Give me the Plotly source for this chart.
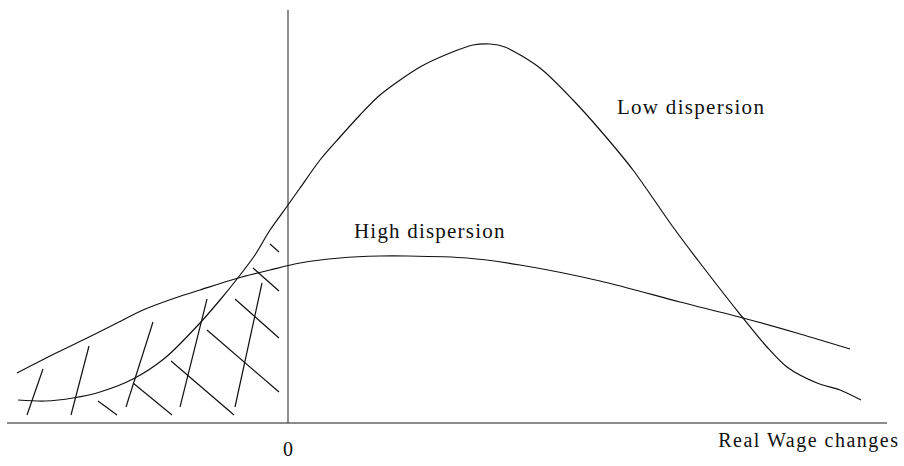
import plotly.graph_objects as go

# Low-dispersion distribution of real wage changes (x: wage change, y: density)
low_x = [-2.70, -2.43, -2.15, -1.88, -1.55, -1.23, -0.88, -0.68, -0.51, -0.33, -0.18, 0.00,
         0.12, 0.32, 0.52, 0.72, 0.92, 1.32, 1.62, 1.85, 2.02, 2.17, 2.52, 2.85, 3.12,
         3.45, 3.85, 4.12, 4.55, 4.79, 4.99, 5.29, 5.52, 5.73]
low_y = [0.23, 0.22, 0.25, 0.31, 0.44, 0.65, 1.00, 1.23, 1.44, 1.68, 1.93, 2.18,
         2.35, 2.63, 2.86, 3.08, 3.28, 3.56, 3.70, 3.78, 3.79, 3.76, 3.55, 3.23, 2.93,
         2.53, 1.96, 1.60, 1.05, 0.76, 0.56, 0.40, 0.33, 0.23]

# High-dispersion distribution
high_x = [-2.71, -2.38, -2.05, -1.73, -1.45, -1.13, -0.88, -0.53, -0.18, 0.12, 0.52, 0.92,
          1.19, 1.79, 2.32, 3.12, 3.92, 4.55, 5.12, 5.62]
high_y = [0.50, 0.67, 0.83, 0.99, 1.13, 1.25, 1.33, 1.44, 1.53, 1.60, 1.65, 1.67,
          1.67, 1.65, 1.58, 1.42, 1.21, 1.05, 0.89, 0.74]

# Hatching strokes in the negative-change region: (x0, y0, x1, y1)
hatch_fwd = [(-2.61, 0.08, -2.45, 0.54), (-2.17, 0.08, -1.99, 0.77), (-1.62, 0.16, -1.35, 1.01),
             (-1.08, 0.16, -0.81, 1.24), (-0.53, 0.16, -0.26, 1.40)]
hatch_back = [(-1.90, 0.22, -1.71, 0.08), (-1.55, 0.40, -1.16, 0.08), (-1.17, 0.62, -0.54, 0.08),
              (-0.81, 0.93, -0.09, 0.31), (-0.53, 1.24, -0.09, 0.85), (-0.35, 1.55, -0.09, 1.32),
              (-0.18, 1.79, -0.09, 1.71)]

labels = {"low": "Low dispersion", "high": "High dispersion", "zero": "0", "axis": "Real Wage changes"}

hx, hy = [], []
for (x0, y0, x1, y1) in hatch_fwd + hatch_back:
    hx += [x0, x1, None]
    hy += [y0, y1, None]

fig = go.Figure()
fig.add_trace(go.Scatter(x=hx, y=hy, mode="lines", line=dict(color="#111111", width=1.2),
                         hoverinfo="skip", showlegend=False))
fig.add_trace(go.Scatter(x=low_x, y=low_y, mode="lines", line=dict(color="#111111", width=1.2, shape="spline", smoothing=0.8),
                         name="Low dispersion", showlegend=False))
fig.add_trace(go.Scatter(x=high_x, y=high_y, mode="lines", line=dict(color="#111111", width=1.2, shape="spline", smoothing=0.8),
                         name="High dispersion", showlegend=False))

# axes drawn as lines
fig.add_shape(type="line", x0=-2.81, x1=5.99, y0=0, y1=0, line=dict(color="#666666", width=1.6), layer="below")
fig.add_shape(type="line", x0=0, x1=0, y0=0, y1=4.13, line=dict(color="#444444", width=1.2), layer="below")

fam = "Liberation Serif, Times New Roman, serif"
big = dict(family=fam, size=21, color="#111111")
small = dict(family=fam, size=20, color="#111111")
fig.add_annotation(x=4.03, y=3.16, text=labels["low"], showarrow=False, xanchor="center", yanchor="middle", font=big)
fig.add_annotation(x=1.42, y=1.92, text=labels["high"], showarrow=False, xanchor="center", yanchor="middle", font=big)
fig.add_annotation(x=0.0, y=-0.26, text=labels["zero"], showarrow=False, xanchor="center", yanchor="middle", font=small)
fig.add_annotation(x=5.21, y=-0.17, text=labels["axis"], showarrow=False, xanchor="center", yanchor="middle", font=small)

fig.update_layout(
    width=904, height=466,
    margin=dict(l=0, r=0, t=0, b=0),
    paper_bgcolor="white", plot_bgcolor="white",
    xaxis=dict(range=[-2.88, 6.16], visible=False, fixedrange=True),
    yaxis=dict(range=[-0.43, 4.23], visible=False, fixedrange=True),
    showlegend=False,
)

post = ("document.body.style.margin='0';document.body.style.overflow='hidden';"
        "var sp=['1.3px','1.2px','0px','1.5px'];"
        "document.querySelectorAll('.annotation').forEach(function(a,i){"
        "var t=a.querySelector('.annotation-text'); if(t){t.style.letterSpacing=sp[i]||'1px';}});")
fig.write_html("out.html", post_script=post, config={"displayModeBar": False})
